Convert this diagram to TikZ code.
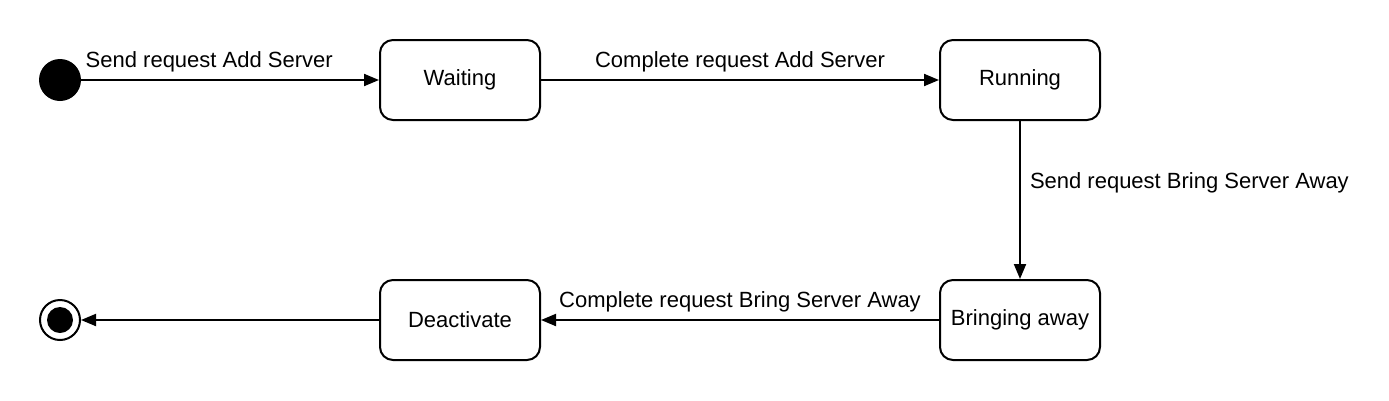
\documentclass[tikz,border=0pt]{standalone}
\usepackage{fontspec}
\setmainfont{Liberation Sans}
\usetikzlibrary{arrows.meta}
\begin{document}
\begin{tikzpicture}[x=1pt,y=-1pt,
  every node/.style={font=\fontsize{22}{26}\selectfont},
  state/.style={draw, line width=2pt, rounded corners=13pt, minimum width=160pt, minimum height=80pt, inner sep=0pt},
  trans/.style={line width=2pt, -{Triangle[length=15pt,width=12pt]}},
  lbl/.style={inner sep=0pt}]
\useasboundingbox[fill=white] (0,0) rectangle (1389,400);
\node[circle, fill=black, minimum size=42pt, inner sep=0pt] (start) at (60,80) {};
\node[circle, draw, line width=2pt, minimum size=40pt, inner sep=0pt] (end) at (60,320) {};
\node[circle, fill=black, minimum size=26pt, inner sep=0pt] (endin) at (60,320) {};
\node[state] (wait) at (460,80) {Waiting};
\node[state] (run) at (1020,80) {Running};
\node[state] (bring) at (1020,320) {Bringing away};
\node[state] (deact) at (460,320) {Deactivate};
\draw[trans] (start) -- (wait) node[lbl, pos=0.43, above=7pt] {Send request Add Server};
\draw[trans] (wait) -- (run) node[lbl, pos=0.5, above=7pt] {Complete request Add Server};
\draw[trans] (run) -- (bring) node[lbl, pos=0.39, right=9pt] {Send request Bring Server Away};
\draw[trans] (bring) -- (deact) node[lbl, pos=0.5, above=7pt] {Complete request Bring Server Away};
\draw[trans] (deact) -- (end);
\end{tikzpicture}
\end{document}
